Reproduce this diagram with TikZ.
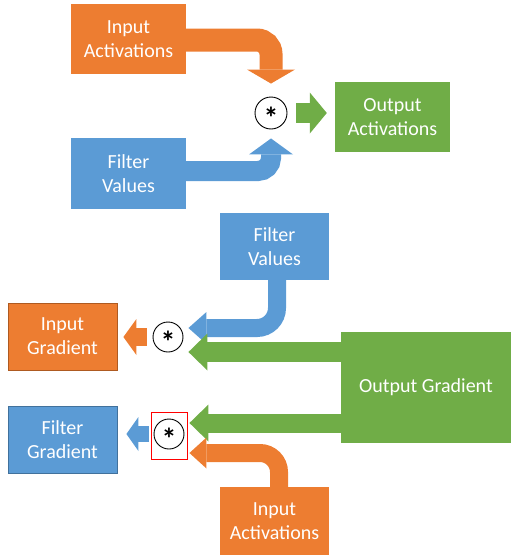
\documentclass[tikz,border=0pt]{standalone}
\usepackage{fontspec}
\setmainfont{Carlito}
\usetikzlibrary{arrows.meta,calc}
\definecolor{orng}{HTML}{ED7D31}
\definecolor{blu}{HTML}{5B9BD5}
\definecolor{grn}{HTML}{70AD47}
\definecolor{orngdk}{HTML}{AE5A21}
\definecolor{bludk}{HTML}{41719C}
\begin{document}
\begin{tikzpicture}[x=1pt,y=-1pt,
  box/.style={rectangle, inner sep=0pt, text=white, align=center,
    font=\fontsize{20}{24}\selectfont},
  opnode/.style={circle, draw=black, line width=0.9pt, minimum size=#1,
    inner sep=0pt, text height=0pt, text depth=0pt,
    font=\fontsize{30}{30}\selectfont\bfseries},
  barrow/.style n args={4}{draw=#1, line width=#2,
    -{Triangle[length=#3, width=#4, line width=0pt]}},
]
\useasboundingbox (0,0) rectangle (511,557);

% boxes
\node[box, fill=orng, minimum width=115pt, minimum height=70pt] (ia1) at (128.5,39) {Input\\Activations};
\node[box, fill=blu, minimum width=115pt, minimum height=71pt] (fv1) at (128.5,173.5) {Filter\\Values};
\node[box, fill=grn, minimum width=115pt, minimum height=70pt] (oa) at (392.5,117) {Output\\Activations};
\node[box, fill=blu, minimum width=109pt, minimum height=67pt] (fv2) at (274.5,246.5) {Filter\\Values};
\node[box, fill=orng, draw=orngdk, line width=0.8pt, minimum width=109pt, minimum height=67pt] (ig) at (62.5,336.5) {Input\\Gradient};
\node[box, fill=grn, minimum width=170pt, minimum height=111pt] (og) at (426,387.5) {Output Gradient};
\node[box, fill=blu, draw=bludk, line width=0.8pt, minimum width=109pt, minimum height=67pt] (fg) at (62.5,439.5) {Filter\\Gradient};
\node[box, fill=orng, minimum width=109pt, minimum height=68pt] (ia2) at (274.5,521) {Input\\Activations};

% operators
\node[opnode=32pt] (c1) at (271,113) {\raisebox{-15.5pt}{*}};
\node[opnode=30pt] (c2) at (168,337) {\raisebox{-15.5pt}{*}};
\node[opnode=30pt] (c3) at (169,434) {\raisebox{-15.5pt}{*}};
\draw[red, line width=0.8pt] ($(c3)+(-18,-22)$) rectangle ($(c3)+(18,25)$);

% forward pass
\draw[barrow={orng}{23pt}{14pt}{48pt}, rounded corners=14pt, shorten >=13pt]
  ([yshift=-1pt]ia1.east) -| (c1.north);
\draw[barrow={blu}{20pt}{16pt}{44pt}, rounded corners=13pt, shorten >=9pt]
  ([yshift=2.5pt]fv1.east) -| (c1.south);
\draw[barrow={grn}{20pt}{17pt}{41pt}, shorten <=9pt, shorten >=8pt]
  (c1.east) -- (c1.east -| oa.west);

% backward pass
\coordinate (tb) at ($(c2.east)+(0,-9)$);
\coordinate (tg1) at ($(c2.east)+(0,15)$);
\coordinate (tg2) at ($(c3.east)+(0,-11)$);
\coordinate (to) at ($(c3.east)+(0,19)$);
\draw[barrow={blu}{18pt}{18pt}{32pt}, rounded corners=20pt, shorten >=5pt]
  ([xshift=2.5pt]fv2.south) |- (tb);
\draw[barrow={grn}{20pt}{19pt}{37pt}, shorten >=5pt]
  (og.west |- tg1) -- (tg1);
\draw[barrow={grn}{19pt}{19pt}{37pt}, shorten >=5pt]
  (og.west |- tg2) -- (tg2);
\draw[barrow={orng}{18pt}{17pt}{31pt}, rounded corners=19pt, shorten >=5pt]
  ([xshift=4.5pt]ia2.north) |- (to);
\draw[barrow={orng}{18pt}{13pt}{36pt}, shorten <=6pt, shorten >=6pt]
  (c2.west) -- (c2.west -| ig.east);
\draw[barrow={blu}{16pt}{12pt}{34pt}, shorten <=5pt, shorten >=9pt]
  (c3.west) -- (c3.west -| fg.east);
\end{tikzpicture}
\end{document}
